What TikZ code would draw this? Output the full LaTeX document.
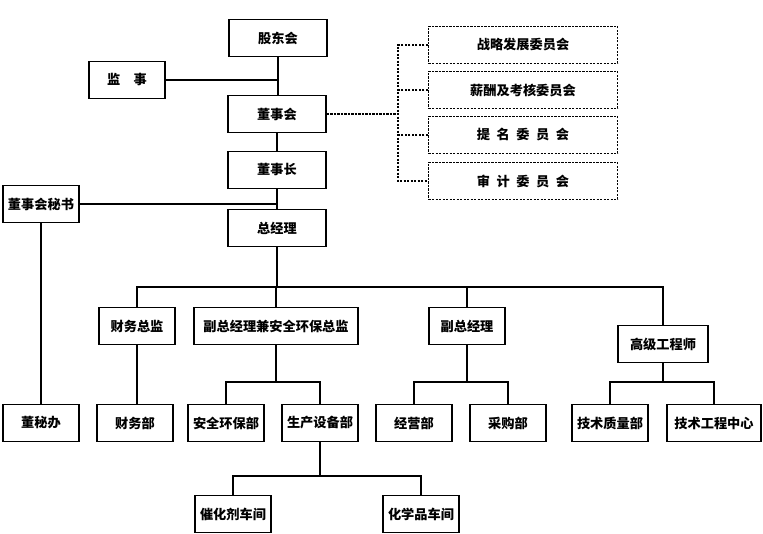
\documentclass[tikz,border=0pt]{standalone}
\usepackage{fontspec}
\newfontfamily\cjk{Noto Sans CJK SC}
\usetikzlibrary{calc}

\begin{document}
\begin{tikzpicture}[x=1pt, y=-1pt,
  box/.style={draw, line width=1.6pt, minimum width=76pt, minimum height=37pt,
    inner sep=0pt, font=\cjk\bfseries\fontsize{13.2}{15}\selectfont},
  cmte/.style={box, line width=1.4pt, dash pattern=on 2.2pt off 1.3pt, minimum width=189pt},
  link/.style={line width=1.6pt},
  dlink/.style={line width=1.4pt, dash pattern=on 2.2pt off 1.3pt},
]
  \useasboundingbox (0,0) rectangle (763,534);

  % Top of the chart
  \node[box, minimum width=98pt] (gdh) at (278,38) {股东会};
  \node[box] (js) at (127,80) {监\quad 事};
  \node[box, minimum width=98pt] (dsh) at (277,114) {董事会};
  \node[box, minimum width=98pt] (dsz) at (277,170) {董事长};
  \node[box] (msh) at (41,204) {董事会秘书};
  \node[box, minimum width=98pt] (zjl) at (277,228) {总经理};

  % Committees
  \node[cmte] (c1) at (523,45) {战略发展委员会};
  \node[cmte] (c2) at (523,90) {薪酬及考核委员会};
  \node[cmte] (c3) at (523,135) {提\enspace 名\enspace 委\enspace 员\enspace 会};
  \node[cmte] (c4) at (523,181) {审\enspace 计\enspace 委\enspace 员\enspace 会};
  \coordinate (cbus) at (398,0);

  % Second level
  \node[box] (cwzj) at (137,326) {财务总监};
  \node[box, minimum width=164pt] (fzjlj) at (276,326) {副总经理兼安全环保总监};
  \node[box] (fzjl) at (467,326) {副总经理};
  \node[box, minimum width=90pt] (gjgcs) at (663,344) {高级工程师};

  % Departments
  \node[box] (mbb) at (41,423) {董秘办};
  \node[box] (cwb) at (135,423) {财务部};
  \node[box] (aqhb) at (226,423) {安全环保部};
  \node[box] (scsb) at (320,423) {生产设备部};
  \node[box] (jyb) at (414,423) {经营部};
  \node[box] (cgb) at (508,423) {采购部};
  \node[box] (jszl) at (610,423) {技术质量部};
  \node[box, minimum width=94pt] (jsgc) at (714,423) {技术工程中心};
  \node[box] (chj) at (233,514) {催化剂车间};
  \node[box] (hxp) at (421,514) {化学品车间};

  \coordinate (b1) at (0,287);
  \coordinate (b2) at (0,382);
  \coordinate (b3) at (0,476);

  % Solid links
  \draw[link] (gdh.south) -- (gdh.south |- dsh.north);
  \draw[link] (js.east) -- (js.east -| gdh.south);
  \draw[link] (dsh) -- (dsz);
  \draw[link] (dsz) -- (zjl);
  \draw[link] (msh.east) -- (msh.east -| zjl.north);
  \draw[link] (msh) -- (mbb);
  \draw[link] (zjl.south) -- (zjl.south |- b1);
  \draw[link] (cwzj.north) |- (gjgcs.north |- b1) -- (gjgcs.north);
  \draw[link] (fzjlj.north) -- (fzjlj.north |- b1);
  \draw[link] (fzjl.north) -- (fzjl.north |- b1);
  \draw[link] (cwzj.south) -- (cwzj.south |- cwb.north);
  \draw[link] (fzjlj.south) -- (fzjlj.south |- b2);
  \draw[link] (aqhb.north) |- (scsb.north |- b2) -- (scsb.north);
  \draw[link] (fzjl.south) -- (fzjl.south |- b2);
  \draw[link] (jyb.north) |- (cgb.north |- b2) -- (cgb.north);
  \draw[link] (gjgcs.south) -- (gjgcs.south |- b2);
  \draw[link] (jszl.north) |- (jsgc.north |- b2) -- (jsgc.north);
  \draw[link] (scsb.south) -- (scsb.south |- b3);
  \draw[link] (chj.north) |- (hxp.north |- b3) -- (hxp.north);

  % Dashed links to committees
  \draw[dlink] (dsh.east) -- (dsh.east -| cbus);
  \draw[dlink] (c1.west) -- (c1.west -| cbus) |- (c4.west);
  \draw[dlink] (c2.west) -- (c2.west -| cbus);
  \draw[dlink] (c3.west) -- (c3.west -| cbus);
\end{tikzpicture}
\end{document}
